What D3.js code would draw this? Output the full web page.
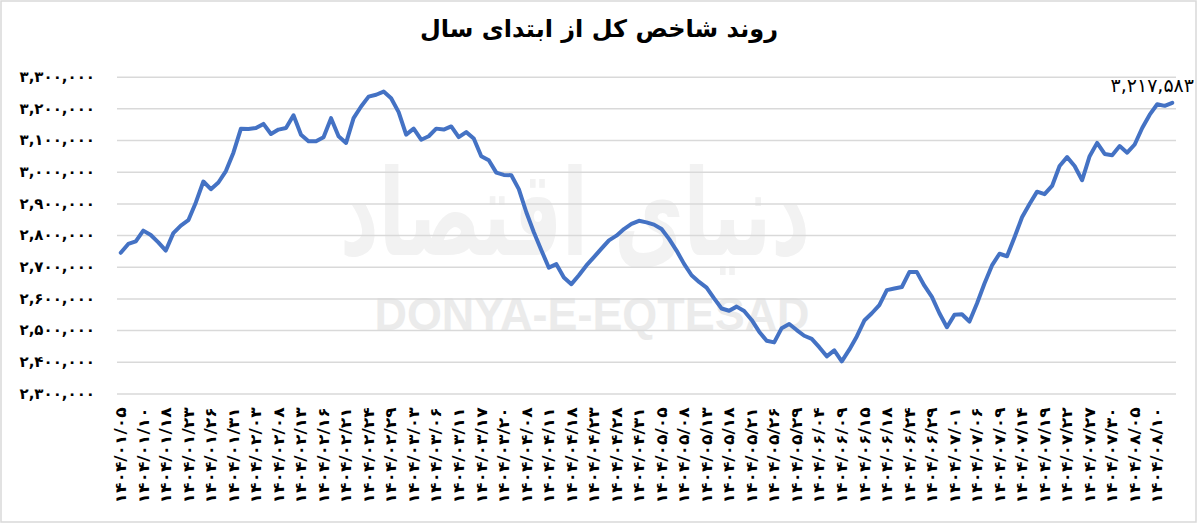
<!DOCTYPE html>
<html><head><meta charset="utf-8">
<script src="https://cdn.jsdelivr.net/npm/d3@7"></script>
<style>
html,body{margin:0;padding:0;background:#fff;}
svg{display:block;}
</style></head>
<body>
<svg id="chart" width="1200" height="524"></svg>
<script>
const chartTitle = "روند شاخص کل از ابتدای سال";
const watermarkLatin = "DONYA-E-EQTESAD";
const watermarkPersian = "دنیای اقتصاد";

// index values (one per trading day)
const indexValues = [
2744000, 2772000, 2780000, 2814000, 2800000, 2777000, 2751000, 2806000, 2830000, 2847000,
2903000, 2969000, 2945000, 2966000, 3002000, 3060000, 3136000, 3135000, 3138000, 3151000,
3119000, 3133000, 3138000, 3178000, 3117000, 3096000, 3096000, 3109000, 3169000, 3112000,
3091000, 3169000, 3206000, 3237000, 3243000, 3253000, 3232000, 3188000, 3117000, 3136000,
3101000, 3112000, 3136000, 3133000, 3143000, 3109000, 3125000, 3105000, 3049000, 3036000,
2997000, 2990000, 2989000, 2945000, 2872000, 2809000, 2752000, 2697000, 2708000, 2666000,
2645000, 2673000, 2704000, 2730000, 2757000, 2783000, 2798000, 2819000, 2835000, 2845000,
2840000, 2833000, 2819000, 2788000, 2751000, 2709000, 2673000, 2652000, 2634000, 2600000,
2568000, 2561000, 2574000, 2560000, 2532000, 2495000, 2466000, 2461000, 2506000, 2519000,
2500000, 2482000, 2472000, 2446000, 2417000, 2436000, 2401000, 2438000, 2480000, 2530000,
2553000, 2579000, 2626000, 2631000, 2636000, 2683000, 2683000, 2640000, 2605000, 2553000,
2509000, 2548000, 2550000, 2527000, 2584000, 2647000, 2704000, 2741000, 2733000, 2793000,
2856000, 2898000, 2937000, 2929000, 2955000, 3018000, 3046000, 3018000, 2973000, 3049000,
3091000, 3056000, 3052000, 3081000, 3060000, 3086000, 3138000, 3180000, 3213000, 3208000,
3217583
];

// labelled dates, one every 3 trading days starting at the first point
const tickLabels = [
'۱۴۰۴/۰۱/۰۵','۱۴۰۴/۰۱/۱۰','۱۴۰۴/۰۱/۱۸','۱۴۰۴/۰۱/۲۳','۱۴۰۴/۰۱/۲۶','۱۴۰۴/۰۱/۳۱',
'۱۴۰۴/۰۲/۰۳','۱۴۰۴/۰۲/۰۸','۱۴۰۴/۰۲/۱۳','۱۴۰۴/۰۲/۱۶','۱۴۰۴/۰۲/۲۱','۱۴۰۴/۰۲/۲۴','۱۴۰۴/۰۲/۲۹',
'۱۴۰۴/۰۳/۰۳','۱۴۰۴/۰۳/۰۶','۱۴۰۴/۰۳/۱۱','۱۴۰۴/۰۳/۱۷','۱۴۰۴/۰۳/۲۰',
'۱۴۰۴/۰۴/۰۸','۱۴۰۴/۰۴/۱۱','۱۴۰۴/۰۴/۱۸','۱۴۰۴/۰۴/۲۳','۱۴۰۴/۰۴/۲۸','۱۴۰۴/۰۴/۳۱',
'۱۴۰۴/۰۵/۰۵','۱۴۰۴/۰۵/۰۸','۱۴۰۴/۰۵/۱۳','۱۴۰۴/۰۵/۱۸','۱۴۰۴/۰۵/۲۱','۱۴۰۴/۰۵/۲۶','۱۴۰۴/۰۵/۲۹',
'۱۴۰۴/۰۶/۰۴','۱۴۰۴/۰۶/۰۹','۱۴۰۴/۰۶/۱۵','۱۴۰۴/۰۶/۱۸','۱۴۰۴/۰۶/۲۴','۱۴۰۴/۰۶/۲۹',
'۱۴۰۴/۰۷/۰۱','۱۴۰۴/۰۷/۰۶','۱۴۰۴/۰۷/۰۹','۱۴۰۴/۰۷/۱۴','۱۴۰۴/۰۷/۱۹','۱۴۰۴/۰۷/۲۲','۱۴۰۴/۰۷/۲۷','۱۴۰۴/۰۷/۳۰',
'۱۴۰۴/۰۸/۰۵','۱۴۰۴/۰۸/۱۰'
];
const labelStep = 3;

const yTickValues = [2300000, 2400000, 2500000, 2600000, 2700000, 2800000, 2900000, 3000000, 3100000, 3200000, 3300000];

const faDigits = s => String(s).replace(/[0-9]/g, d => '۰۱۲۳۴۵۶۷۸۹'[+d]);
const fmt = v => faDigits(d3.format(',')(v));

const svg = d3.select('#chart');
const plot = {left: 117, right: 1176, top: 76.7, bottom: 393.4};

// outer border
svg.append('rect').attr('x', 1).attr('y', 1).attr('width', 1195).attr('height', 521)
  .attr('fill', '#fff').attr('stroke', '#d9d9d9').attr('stroke-width', 1.5);

// watermarks
svg.append('text').attr('x', 575).attr('y', 255)
  .attr('text-anchor', 'middle').attr('font-family', 'DejaVu Sans').attr('font-weight', 'bold')
  .attr('font-size', 120).attr('fill', '#f2f2f2').attr('textLength', 470)
  .attr('lengthAdjust', 'spacingAndGlyphs').text(watermarkPersian);
svg.append('text').attr('x', 592).attr('y', 330)
  .attr('text-anchor', 'middle').attr('font-family', 'Liberation Sans').attr('font-weight', 'bold')
  .attr('font-size', 47).attr('fill', '#ebebeb').attr('textLength', 435)
  .attr('lengthAdjust', 'spacingAndGlyphs').text(watermarkLatin);

const x = d3.scaleBand().domain(d3.range(indexValues.length)).range([plot.left, plot.right]).paddingInner(0).paddingOuter(0);
const y = d3.scaleLinear().domain([2300000, 3300000]).range([plot.bottom, plot.top]);

// y axis + gridlines
const yAxis = svg.append('g').attr('transform', `translate(${plot.left},0)`)
  .call(d3.axisLeft(y).tickValues(yTickValues).tickSize(-(plot.right - plot.left)).tickPadding(22).tickFormat(fmt));
yAxis.select('.domain').remove();
yAxis.selectAll('.tick line').attr('stroke', '#d9d9d9').attr('stroke-width', 1.5);
yAxis.selectAll('.tick text').attr('font-family', 'DejaVu Sans').attr('font-weight', 'bold')
  .attr('font-size', 15).attr('fill', '#000').attr('direction', 'ltr');

// x axis labels
const xAxis = svg.append('g').attr('transform', `translate(0,${plot.bottom})`)
  .call(d3.axisBottom(x).tickValues(d3.range(0, tickLabels.length * labelStep, labelStep))
    .tickSize(0).tickFormat(i => tickLabels[i / labelStep]));
xAxis.select('.domain').remove();
xAxis.selectAll('.tick text')
  .attr('transform', 'rotate(-90)')
  .attr('x', -14).attr('y', 0).attr('dy', '0.35em')
  .attr('text-anchor', 'end').attr('direction', 'ltr')
  .attr('font-family', 'DejaVu Sans').attr('font-weight', 'bold')
  .attr('font-size', 15).attr('textLength', 96).attr('lengthAdjust', 'spacingAndGlyphs')
  .attr('fill', '#000');

// line
const line = d3.line().x((d, i) => x(i) + x.bandwidth() / 2).y(d => y(d));
svg.append('path').datum(indexValues).attr('d', line)
  .attr('fill', 'none').attr('stroke', '#4472C4').attr('stroke-width', 4)
  .attr('stroke-linejoin', 'round').attr('stroke-linecap', 'round');

// last value label
const lastI = indexValues.length - 1;
svg.append('text').attr('x', 1194).attr('y', y(indexValues[lastI]) - 11)
  .attr('text-anchor', 'end').attr('direction', 'ltr')
  .attr('font-family', 'DejaVu Sans').attr('font-size', 19).attr('fill', '#000')
  .text(fmt(indexValues[lastI]));

// title
svg.append('text').attr('x', 599).attr('y', 37).attr('text-anchor', 'middle')
  .attr('font-family', 'DejaVu Sans').attr('font-weight', 'bold').attr('font-size', 24)
  .attr('fill', '#000').text(chartTitle);
</script>
</body></html>
